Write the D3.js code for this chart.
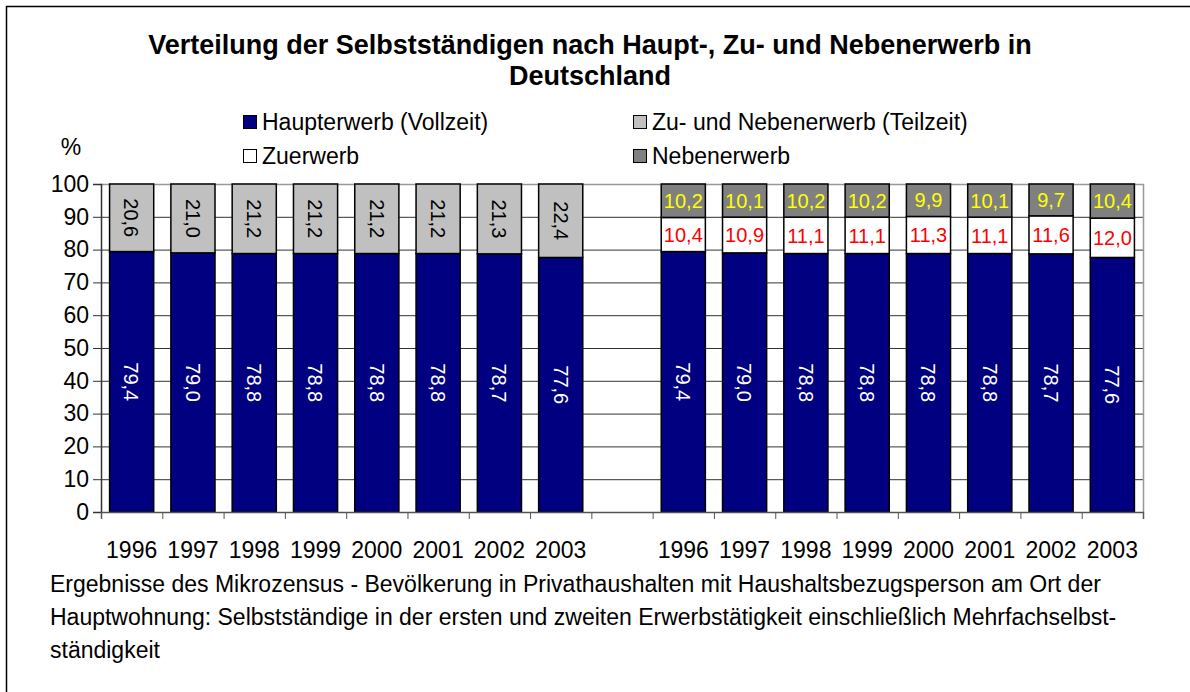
<!DOCTYPE html>
<html>
<head>
<meta charset="utf-8">
<script src="https://cdn.jsdelivr.net/npm/d3@7"></script>
<style>
  body { margin: 0; background: #fff; }
  svg { display: block; font-family: "Liberation Sans", Arial, sans-serif; }
</style>
</head>
<body>
<div id="chart"></div>
<script>
// data
const years = ["1996", "1997", "1998", "1999", "2000", "2001", "2002", "2003"]
const hauptLeft = [79.4, 79.0, 78.8, 78.8, 78.8, 78.8, 78.7, 77.6]
const zuNebenLeft = [20.6, 21.0, 21.2, 21.2, 21.2, 21.2, 21.3, 22.4]
const hauptRight = [79.4, 79.0, 78.8, 78.8, 78.8, 78.8, 78.7, 77.6]
const zuerwerbRight = [10.4, 10.9, 11.1, 11.1, 11.3, 11.1, 11.6, 12.0]
const nebenRight = [10.2, 10.1, 10.2, 10.2, 9.9, 10.1, 9.7, 10.4]
const yTicks = [0, 10, 20, 30, 40, 50, 60, 70, 80, 90, 100]

const titleLines = ["Verteilung der Selbstständigen nach Haupt-, Zu- und Nebenerwerb in", "Deutschland"]
const noteLines = [
  "Ergebnisse des Mikrozensus - Bevölkerung in Privathaushalten mit Haushaltsbezugsperson am Ort der",
  "Hauptwohnung: Selbstständige in der ersten und zweiten Erwerbstätigkeit einschließlich Mehrfachselbst-",
  "ständigkeit"
]
const legendItems = [
  { name: "Haupterwerb (Vollzeit)", color: "#000080" },
  { name: "Zu- und Nebenerwerb (Teilzeit)", color: "#c0c0c0" },
  { name: "Zuerwerb", color: "#ffffff" },
  { name: "Nebenerwerb", color: "#808080" }
]

const width = 1190, height = 692
const plotLeft = 101, plotRight = 1143, plotTop = 184, plotBottom = 512

// 8 left bars, one empty slot, 8 right bars
const cats = years.map(y => "L" + y).concat(["gap"], years.map(y => "R" + y))

const rows = []
years.forEach((y, i) => {
  rows.push({ key: "L" + y, segs: [
    { v: hauptLeft[i], color: "#000080", text: "#ffffff", rotate: true },
    { v: zuNebenLeft[i], color: "#c0c0c0", text: "#000000", rotate: true }
  ]})
})
years.forEach((y, i) => {
  rows.push({ key: "R" + y, segs: [
    { v: hauptRight[i], color: "#000080", text: "#ffffff", rotate: true },
    { v: zuerwerbRight[i], color: "#ffffff", text: "#ff0000", rotate: false },
    { v: nebenRight[i], color: "#808080", text: "#ffff00", rotate: false }
  ]})
})
rows.forEach(r => {
  let acc = 0
  r.segs.forEach(s => { s.y0 = acc; acc += s.v; s.y1 = Math.min(acc, 100) })
})

const fmt = v => d3.format(".1f")(v).replace(".", ",")

const svg = d3.select("#chart").append("svg")
  .attr("width", width)
  .attr("height", height)

// outer frame (top and left edges only are visible)
svg.append("path")
  .attr("d", "M6.5," + height + "V6.5H" + width)
  .attr("fill", "none")
  .attr("stroke", "#000")
  .attr("stroke-width", 1.5)

const x = d3.scaleBand().domain(cats).range([plotLeft, plotRight]).paddingInner(0.28).paddingOuter(0.14)
const slots = d3.scaleLinear().domain([0, cats.length]).range([plotLeft, plotRight])
const y = d3.scaleLinear().domain([0, 100]).range([plotBottom, plotTop])

// gridlines
svg.append("g")
  .selectAll("line")
  .data(yTicks.filter(t => t > 0 && t < 100))
  .enter().append("line")
  .attr("x1", plotLeft).attr("x2", plotRight)
  .attr("y1", d => y(d) + 0.5).attr("y2", d => y(d) + 0.5)
  .attr("stroke", "#333")

// plot border top and right
svg.append("path")
  .attr("d", "M" + plotLeft + "," + (plotTop + 0.5) + "H" + (plotRight + 0.5) + "V" + plotBottom)
  .attr("fill", "none")
  .attr("stroke", "#999")
  .attr("stroke-width", 1.5)

// bars
const bars = svg.append("g").selectAll("g")
  .data(rows)
  .enter().append("g")

bars.selectAll("rect")
  .data(d => d.segs.map(s => Object.assign({ key: d.key }, s)))
  .enter().append("rect")
  .attr("x", d => x(d.key))
  .attr("width", x.bandwidth())
  .attr("y", d => y(d.y1))
  .attr("height", d => y(d.y0) - y(d.y1))
  .attr("fill", d => d.color)
  .attr("stroke", "#000")
  .attr("stroke-width", 1.5)

bars.selectAll("text")
  .data(d => d.segs.map(s => Object.assign({ key: d.key }, s)))
  .enter().append("text")
  .attr("transform", d => {
    const cx = x(d.key) + x.bandwidth() / 2
    const cy = y((d.y0 + d.y1) / 2)
    return "translate(" + cx + "," + cy + ")" + (d.rotate ? " rotate(90)" : "")
  })
  .attr("text-anchor", "middle")
  .attr("dy", "0.36em")
  .attr("font-size", 20)
  .attr("fill", d => d.text)
  .text(d => fmt(d.v))

// y axis
const yAxis = svg.append("g")
  .attr("transform", "translate(" + plotLeft + ",0)")
  .call(d3.axisLeft(y).tickValues(yTicks).tickSize(8).tickPadding(4).tickFormat(d3.format("d")))
yAxis.select(".domain").attr("stroke", "#333").attr("stroke-width", 1.5)
yAxis.selectAll(".tick line").attr("stroke", "#333")
yAxis.selectAll("text").attr("font-size", 23).attr("fill", "#000").attr("font-family", "Liberation Sans, Arial, sans-serif")

// x axis: ticks on slot boundaries
const xAxis = svg.append("g")
  .attr("transform", "translate(0," + plotBottom + ")")
  .call(d3.axisBottom(slots).tickValues(d3.range(cats.length + 1)).tickSize(7).tickFormat(""))
xAxis.select(".domain").attr("stroke", "#555").attr("stroke-width", 1.5)
xAxis.selectAll(".tick line").attr("stroke", "#555")

svg.append("g").selectAll("text")
  .data(cats.filter(c => c !== "gap"))
  .enter().append("text")
  .attr("x", d => x(d) + x.bandwidth() / 2)
  .attr("y", 558)
  .attr("text-anchor", "middle")
  .attr("font-size", 23)
  .text(d => d.slice(1))

// "%" label
svg.append("text")
  .attr("x", 71).attr("y", 155)
  .attr("text-anchor", "middle")
  .attr("font-size", 23)
  .text("%")

// title
svg.append("g").selectAll("text")
  .data(titleLines)
  .enter().append("text")
  .attr("x", 590)
  .attr("y", (d, i) => 54 + i * 31)
  .attr("text-anchor", "middle")
  .attr("font-size", 27)
  .attr("font-weight", "bold")
  .text(d => d)

// legend
const leg = svg.append("g").selectAll("g")
  .data(legendItems)
  .enter().append("g")
  .attr("transform", (d, i) => "translate(" + (i % 2 === 0 ? 243 : 633) + "," + (i < 2 ? 122 : 156) + ")")
leg.append("rect")
  .attr("x", 0.5).attr("y", -6.5)
  .attr("width", 13).attr("height", 13)
  .attr("fill", d => d.color)
  .attr("stroke", "#000")
leg.append("text")
  .attr("x", 19).attr("y", 0)
  .attr("dy", "0.35em")
  .attr("font-size", 23)
  .text(d => d.name)

// footnote
svg.append("g").selectAll("text")
  .data(noteLines)
  .enter().append("text")
  .attr("x", 50)
  .attr("y", (d, i) => 592 + i * 33)
  .attr("font-size", 23)
  .text(d => d)
</script>
</body>
</html>
